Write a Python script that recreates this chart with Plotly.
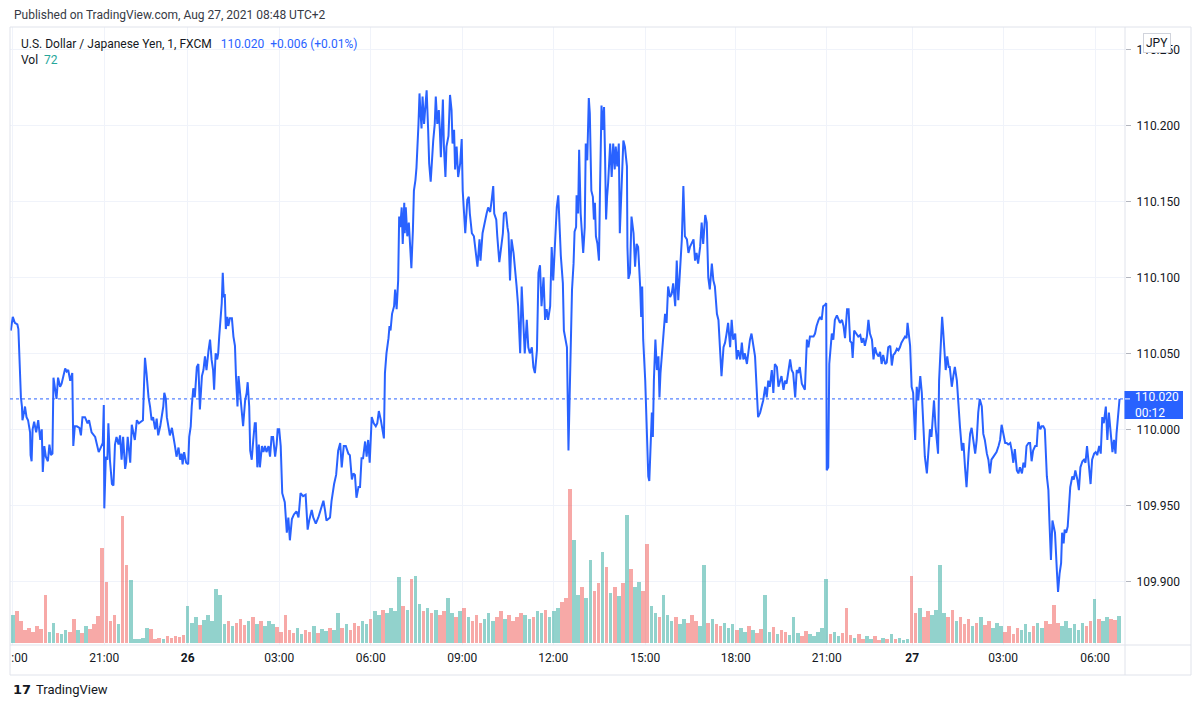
import numpy as np
import plotly.graph_objects as go

# USD/JPY 1-minute closes, x = bar number counted from 18:00 on Aug 25
eve_25 = [(-4, 110.065), (0, 110.074), (4, 110.070), (9, 110.069), (11, 110.066), (13, 110.046), (16, 110.021),
          (18, 110.015), (19, 110.006), (22, 110.011), (24, 110.015), (27, 110.008), (30, 110.006), (34, 109.998),
          (35, 109.983), (37, 109.979), (39, 110.000), (42, 110.005), (46, 109.998), (50, 110.006), (54, 109.993),
          (57, 110.000), (59, 109.972), (62, 109.989), (65, 109.982), (69, 109.979), (72, 109.990), (75, 109.983),
          (78, 109.984), (80, 110.034), (83, 110.028), (86, 110.020), (89, 110.034), (93, 110.028), (96, 110.030),
          (99, 110.035), (103, 110.040), (106, 110.038), (109, 110.039), (113, 110.032), (117, 110.037),
          (119, 109.989), (122, 110.002), (126, 110.002), (131, 110.001), (134, 109.996), (137, 110.008),
          (142, 110.008), (147, 110.004), (150, 110.006), (155, 109.998), (162, 109.995), (165, 109.991),
          (169, 109.985), (173, 109.988), (177, 109.991), (179, 110.016), (180, 109.948), (183, 109.982),
          (186, 109.980), (188, 110.004), (191, 109.980), (195, 109.964), (198, 109.963), (201, 109.990),
          (204, 109.995), (208, 109.990), (211, 109.996), (214, 109.980), (217, 109.995), (221, 109.974),
          (223, 109.978), (226, 109.995), (231, 109.978), (234, 110.003), (237, 109.998), (240, 109.993),
          (244, 110.006), (248, 110.004), (252, 110.005), (256, 110.006), (258, 110.028), (260, 110.047),
          (263, 110.037), (267, 110.021), (270, 110.015), (273, 110.006), (276, 110.008), (280, 110.000),
          (283, 110.007), (286, 109.996), (290, 110.002), (293, 110.008), (296, 110.015), (298, 110.024),
          (301, 110.020), (303, 110.008), (306, 110.002), (309, 109.996), (313, 110.001), (316, 109.993),
          (319, 109.989), (322, 109.982), (326, 109.988), (329, 109.980), (332, 109.984), (334, 109.977),
          (337, 109.985), (341, 109.978), (345, 109.977)]

asia_26 = [(347, 109.995), (350, 110.002), (352, 110.015), (355, 110.027), (358, 110.021), (362, 110.041),
           (365, 110.043), (368, 110.013), (372, 110.035), (375, 110.039), (378, 110.048), (381, 110.039),
           (385, 110.052), (388, 110.059), (391, 110.046), (394, 110.039), (396, 110.026), (399, 110.050),
           (402, 110.046), (404, 110.050), (406, 110.061), (409, 110.074), (411, 110.083), (413, 110.103),
           (415, 110.087), (417, 110.089), (419, 110.066), (422, 110.074), (424, 110.068), (427, 110.073),
           (431, 110.073), (434, 110.061), (437, 110.055), (439, 110.035), (442, 110.015), (444, 110.035),
           (447, 110.024), (450, 110.011), (453, 110.002), (457, 110.019), (460, 110.024), (462, 110.031),
           (465, 110.015), (467, 109.986), (470, 109.980), (473, 109.993), (476, 110.004), (478, 110.004),
           (481, 109.975), (484, 109.990), (486, 109.975), (490, 109.989), (493, 109.985), (496, 109.989),
           (499, 109.985), (503, 109.989), (506, 109.982), (509, 109.995), (512, 109.995), (516, 109.982),
           (519, 109.990), (521, 110.000), (524, 110.000), (527, 109.989), (530, 109.958), (535, 109.952),
           (539, 109.932), (542, 109.942), (545, 109.927), (549, 109.941), (553, 109.944), (558, 109.946),
           (562, 109.942), (566, 109.958), (571, 109.956), (576, 109.957), (580, 109.934), (583, 109.940),
           (588, 109.947), (591, 109.942), (596, 109.938), (601, 109.942), (604, 109.945), (611, 109.953),
           (614, 109.947), (617, 109.940), (624, 109.942), (627, 109.953), (632, 109.964), (636, 109.970),
           (640, 109.986), (644, 109.991), (647, 109.975), (651, 109.989), (655, 109.989), (660, 109.984),
           (663, 109.983), (667, 109.967), (670, 109.971), (673, 109.970), (676, 109.955), (680, 109.962),
           (683, 109.962), (686, 109.981), (689, 109.981), (693, 109.992), (696, 109.982), (699, 109.993),
           (702, 109.978), (706, 110.008), (710, 110.004), (714, 110.002), (717, 110.004), (720, 110.012),
           (724, 110.006), (728, 109.997), (730, 109.994)]

europe_26 = [(732, 110.037), (735, 110.050), (739, 110.060), (741, 110.068), (743, 110.065), (746, 110.076),
             (750, 110.081), (752, 110.092), (755, 110.079), (758, 110.098), (760, 110.140), (762, 110.133),
             (765, 110.146), (767, 110.122), (770, 110.149), (771, 110.129), (773, 110.146), (776, 110.127),
             (779, 110.136), (781, 110.120), (784, 110.106), (787, 110.131), (789, 110.157), (792, 110.164),
             (794, 110.172), (798, 110.201), (800, 110.221), (802, 110.208), (804, 110.198), (806, 110.219),
             (809, 110.201), (811, 110.210), (814, 110.223), (817, 110.197), (819, 110.175), (822, 110.163),
             (825, 110.186), (827, 110.190), (830, 110.201), (832, 110.219), (835, 110.201), (838, 110.210),
             (840, 110.197), (842, 110.179), (846, 110.217), (848, 110.186), (851, 110.166), (853, 110.186),
             (857, 110.193), (860, 110.220), (863, 110.210), (865, 110.188), (868, 110.197), (870, 110.171),
             (873, 110.186), (876, 110.166), (880, 110.175), (883, 110.191), (885, 110.157), (888, 110.138),
             (890, 110.129), (894, 110.151), (897, 110.153), (899, 110.142), (903, 110.129), (907, 110.127),
             (911, 110.114), (914, 110.107), (918, 110.125), (920, 110.111), (924, 110.129), (929, 110.138),
             (932, 110.142), (935, 110.146), (939, 110.143), (942, 110.151), (945, 110.160), (947, 110.142),
             (951, 110.138), (953, 110.127), (957, 110.110), (960, 110.118), (964, 110.129), (966, 110.142),
             (970, 110.143), (973, 110.133), (975, 110.129), (978, 110.098), (981, 110.125), (985, 110.116),
             (988, 110.107), (991, 110.094), (994, 110.081), (998, 110.050), (1001, 110.094), (1004, 110.076),
             (1007, 110.050), (1011, 110.072), (1014, 110.054), (1017, 110.050), (1021, 110.054),
             (1024, 110.041), (1027, 110.037), (1031, 110.052), (1034, 110.103), (1037, 110.108),
             (1040, 110.081), (1044, 110.100), (1047, 110.072), (1050, 110.079), (1053, 110.072),
             (1057, 110.081), (1060, 110.120), (1063, 110.098), (1067, 110.127), (1070, 110.146),
             (1073, 110.154), (1075, 110.138), (1078, 110.114), (1082, 110.096), (1084, 110.065),
             (1090, 110.054), (1092, 110.011), (1093, 109.986)]

ny_26 = [(1096, 110.032), (1098, 110.076), (1100, 110.092), (1103, 110.109), (1105, 110.130), (1108, 110.133),
         (1109, 110.154), (1112, 110.142), (1114, 110.184), (1117, 110.142), (1120, 110.127), (1122, 110.116),
         (1125, 110.133), (1127, 110.188), (1130, 110.177), (1133, 110.218), (1135, 110.208), (1138, 110.157),
         (1141, 110.153), (1143, 110.138), (1145, 110.149), (1147, 110.127), (1150, 110.122), (1153, 110.111),
         (1155, 110.157), (1158, 110.213), (1160, 110.197), (1163, 110.212), (1165, 110.179), (1167, 110.138),
         (1169, 110.153), (1171, 110.162), (1175, 110.188), (1178, 110.166), (1181, 110.188), (1184, 110.171),
         (1186, 110.186), (1189, 110.173), (1192, 110.188), (1194, 110.129), (1198, 110.164), (1201, 110.190),
         (1204, 110.186), (1208, 110.173), (1209, 110.120), (1211, 110.099), (1214, 110.103), (1217, 110.140),
         (1221, 110.129), (1224, 110.107), (1227, 110.122), (1230, 110.120), (1234, 110.094), (1236, 110.074),
         (1238, 110.094), (1240, 110.059), (1244, 110.032), (1247, 109.993), (1250, 109.969), (1252, 109.966),
         (1255, 109.997), (1257, 110.011), (1259, 109.995), (1261, 110.032), (1264, 110.059), (1267, 110.039),
         (1270, 110.048), (1272, 110.021), (1274, 110.037), (1277, 110.054), (1280, 110.063), (1283, 110.076),
         (1286, 110.070), (1289, 110.094), (1293, 110.087), (1296, 110.089), (1299, 110.096), (1303, 110.081),
         (1306, 110.111), (1309, 110.085), (1312, 110.105), (1316, 110.125), (1319, 110.160), (1322, 110.127),
         (1326, 110.125), (1329, 110.116), (1332, 110.120), (1335, 110.122), (1339, 110.125), (1342, 110.111),
         (1345, 110.116), (1348, 110.109), (1352, 110.120), (1355, 110.136), (1358, 110.122), (1362, 110.141),
         (1365, 110.136), (1368, 110.100), (1371, 110.092), (1375, 110.109), (1378, 110.098), (1381, 110.094),
         (1385, 110.076), (1388, 110.072), (1391, 110.048), (1394, 110.035), (1398, 110.054), (1401, 110.057),
         (1404, 110.063), (1407, 110.070), (1411, 110.054), (1414, 110.072), (1417, 110.059), (1421, 110.063),
         (1424, 110.046), (1427, 110.052), (1431, 110.046), (1434, 110.057), (1437, 110.046), (1440, 110.050),
         (1444, 110.043), (1450, 110.059), (1453, 110.063), (1457, 110.054), (1460, 110.048), (1463, 110.028),
         (1466, 110.008), (1470, 110.011), (1473, 110.015), (1476, 110.019), (1480, 110.028), (1483, 110.021),
         (1486, 110.032), (1489, 110.028), (1493, 110.039), (1496, 110.024), (1499, 110.043), (1503, 110.041),
         (1506, 110.028), (1509, 110.032), (1512, 110.035), (1516, 110.026), (1519, 110.032), (1522, 110.030),
         (1525, 110.037), (1529, 110.046), (1532, 110.039), (1535, 110.037), (1539, 110.021), (1542, 110.039),
         (1545, 110.037), (1548, 110.041), (1552, 110.030), (1555, 110.028), (1558, 110.026), (1562, 110.059),
         (1565, 110.054), (1568, 110.061), (1571, 110.061), (1575, 110.061), (1578, 110.063), (1581, 110.068),
         (1585, 110.072), (1588, 110.074), (1591, 110.072), (1594, 110.081), (1598, 110.082), (1600, 110.083)]

night_27 = [(1601, 109.973), (1604, 109.975), (1606, 110.043), (1609, 110.054), (1611, 110.063), (1614, 110.059),
            (1617, 110.072), (1621, 110.075), (1624, 110.073), (1627, 110.070), (1631, 110.072), (1634, 110.068),
            (1637, 110.060), (1641, 110.079), (1644, 110.079), (1647, 110.058), (1650, 110.057), (1652, 110.047),
            (1655, 110.065), (1659, 110.063), (1663, 110.061), (1667, 110.062), (1670, 110.057), (1673, 110.060),
            (1676, 110.055), (1680, 110.061), (1683, 110.072), (1686, 110.063), (1690, 110.059), (1693, 110.046),
            (1696, 110.054), (1699, 110.050), (1703, 110.048), (1706, 110.051), (1709, 110.043), (1712, 110.049),
            (1716, 110.043), (1719, 110.044), (1722, 110.054), (1726, 110.055), (1729, 110.042), (1732, 110.049),
            (1735, 110.050), (1739, 110.053), (1742, 110.052), (1745, 110.054), (1748, 110.057), (1755, 110.061),
            (1758, 110.060), (1760, 110.070), (1763, 110.063), (1765, 110.055), (1768, 110.028), (1771, 110.024),
            (1775, 109.993), (1778, 110.028), (1781, 110.019), (1785, 110.035), (1788, 110.024), (1791, 110.004),
            (1794, 109.982), (1798, 109.971), (1801, 109.989), (1804, 110.000), (1807, 109.995), (1810, 110.015),
            (1812, 110.019), (1815, 110.002), (1818, 109.989), (1820, 109.984), (1822, 110.032), (1825, 110.059),
            (1828, 110.074), (1830, 110.065), (1833, 110.048), (1835, 110.039), (1838, 110.048), (1841, 110.041),
            (1843, 110.041), (1847, 110.028), (1850, 110.035), (1853, 110.041), (1857, 110.032), (1860, 110.015),
            (1863, 110.002), (1867, 109.986), (1870, 109.991), (1873, 109.975), (1876, 109.962), (1880, 109.984),
            (1883, 109.997), (1886, 110.001), (1889, 109.995), (1893, 109.984), (1896, 109.993), (1899, 110.011),
            (1902, 110.020), (1906, 110.015), (1909, 109.997), (1912, 109.993), (1916, 109.984), (1919, 109.980),
            (1922, 109.971), (1925, 109.980), (1929, 109.982), (1932, 109.984), (1935, 109.985), (1939, 109.989),
            (1942, 109.993), (1945, 110.003), (1948, 109.997), (1952, 109.991), (1955, 109.991), (1958, 109.990),
            (1962, 109.991), (1965, 109.986), (1968, 109.978), (1971, 109.987), (1975, 109.973), (1978, 109.971),
            (1981, 109.975), (1985, 109.971), (1988, 109.978), (1991, 109.975), (1994, 109.989), (1998, 109.991),
            (2001, 109.991), (2004, 109.979), (2007, 109.986), (2011, 109.989), (2014, 109.989), (2017, 110.005),
            (2021, 110.000), (2024, 110.002), (2027, 110.002), (2030, 110.000), (2034, 109.969), (2037, 109.960),
            (2039, 109.940), (2042, 109.914), (2045, 109.940), (2047, 109.936), (2050, 109.932), (2054, 109.905),
            (2056, 109.893), (2059, 109.905), (2062, 109.912), (2064, 109.932), (2067, 109.925), (2069, 109.934),
            (2072, 109.932), (2075, 109.936), (2077, 109.945), (2080, 109.962), (2084, 109.969), (2087, 109.967),
            (2090, 109.973), (2094, 109.967), (2097, 109.960), (2100, 109.975), (2104, 109.979), (2107, 109.980),
            (2110, 109.978), (2113, 109.989), (2117, 109.975), (2120, 109.964), (2123, 109.980), (2127, 109.984),
            (2130, 109.985), (2133, 109.983), (2137, 109.989), (2140, 109.984), (2143, 110.008), (2146, 110.004),
            (2150, 110.015), (2153, 109.993), (2156, 110.011), (2160, 109.997), (2163, 109.985), (2166, 109.993),
            (2169, 109.984), (2171, 109.997), (2174, 110.011), (2177, 110.020)]

# tick volume, one value per 8 bars
vol_25 = [75, 85, 60, 35, 40, 30, 45, 38, 130, 30, 55, 28, 25, 35, 30, 64, 35, 28, 45, 38, 50, 72, 256, 163,
          60, 75, 50, 340, 210, 170, 12, 10, 15, 40, 38, 12, 15, 10, 18, 14, 20, 16, 22]
vol_26a = [100, 55, 70, 48, 62, 75, 60, 145, 130, 50, 60, 45, 55, 65, 48, 58, 70, 52, 60, 45, 58, 50, 42,
           30, 75, 35, 28, 40, 25, 35, 30, 45, 28, 38, 32, 40, 35, 80, 40, 50, 35, 55, 45, 60, 50]
vol_26b = [65, 85, 75, 90, 80, 95, 85, 176, 100, 90, 171, 180, 105, 85, 95, 80, 90, 75, 85, 120, 80, 70, 85, 93,
           70, 60, 75, 55, 65, 80, 60, 70, 85, 65, 75, 60, 70, 80, 75, 65, 70, 85, 80, 90, 70, 85, 95,
           110, 120, 414, 275, 130, 150, 120, 222, 140, 160, 245, 203, 135, 150, 125, 160, 342,
           198, 150, 165, 140, 265, 100, 80, 70, 130, 75]
vol_26c = [60, 70, 50, 65, 55, 75, 60, 45, 208, 55, 65, 50, 45, 55, 40, 50, 35,
           40, 30, 45, 35, 28, 38, 128, 30, 42, 25, 35, 30, 22, 70, 28, 20, 32, 25, 18, 30, 40, 171,
           25, 30, 20, 28, 93, 22, 15, 25, 12, 18, 10, 20, 8, 15, 12, 25, 10, 15, 8, 12, 179]
vol_27 = [80, 95, 70, 85, 75, 90, 208, 80, 70, 90, 60, 70, 50, 65, 45, 55, 70, 48, 60, 40, 55, 45,
          30, 45, 25, 40, 35, 50, 30, 45, 55, 40, 60, 50, 101, 55, 45, 60, 40, 50, 35, 55, 45, 60, 117,
          65, 60, 70, 65, 62, 72]

tick_bars = [0, 180, 344, 524, 704, 884, 1063, 1244, 1422, 1601, 1769, 1948, 2129]
tick_text = ['<span style="color:rgba(0,0,0,0)">18</span>:00', '21:00', '<b>26</b>', '03:00', '06:00', '09:00',
             '12:00', '15:00', '18:00', '21:00', '<b>27</b>', '03:00', '06:00']

last_price = 110.020

line_pts = eve_25 + asia_26 + europe_26 + ny_26 + night_27
bar_idx = np.array([p[0] for p in line_pts])
close = np.array([p[1] for p in line_pts])

volume = vol_25 + vol_26a + vol_26b + vol_26c + vol_27
vol_bar = np.arange(len(volume)) * 8


def last_close(b):
    i = np.searchsorted(bar_idx, b, side='right') - 1
    return close[max(i, 0)]


vol_col = ['rgba(38,166,154,0.5)' if last_close(b) >= last_close(b - 8) else 'rgba(239,83,80,0.5)'
           for b in vol_bar]

BLUE = '#2962ff'
BORDER = '#e0e3eb'
GRID = '#f0f3fa'
TXT = '#131722'

fig = go.Figure()
fig.add_trace(go.Bar(x=vol_bar, y=volume, width=7, marker=dict(color=vol_col, line=dict(width=0)),
                     yaxis='y'))
fig.add_trace(go.Scatter(x=bar_idx, y=close, mode='lines', line=dict(color=BLUE, width=2), yaxis='y2'))

fig.update_layout(
    width=1200, height=706,
    margin=dict(l=10, r=75, t=27, b=61),
    paper_bgcolor='white', plot_bgcolor='white',
    showlegend=False, hovermode=False, bargap=0,
    font=dict(family='Roboto, "Noto Sans", sans-serif', size=12, color=TXT),
    xaxis=dict(range=[-5.5, 2187.7], tickvals=tick_bars, ticktext=tick_text, showgrid=True,
               gridcolor=GRID, zeroline=False, showline=False, ticks='', ticklabelstandoff=4,
               ticklabeloverflow='allow', automargin=False, tickfont=dict(size=12, color=TXT)),
    yaxis=dict(range=[-5, 1650], visible=False, showgrid=False, automargin=False),
    yaxis2=dict(overlaying='y', side='right', anchor='x', range=[109.8581, 110.2647], tick0=110, dtick=0.05,
                tickformat='.3f', showgrid=True, gridcolor=GRID, zeroline=False, showline=False,
                ticks='outside', ticklen=5, tickcolor='#b2b5be', ticklabelstandoff=3, automargin=False,
                tickfont=dict(size=12, color=TXT)),
)

# pane / scale borders
xr = (1191 - 10) / 1115
yb = -30 / 618
for x0, y0, x1, y1 in [(0, 1, xr, 1), (0, yb, xr, yb), (0, yb, 0, 1), (xr, yb, xr, 1), (1, yb, 1, 1), (0, 0, xr, 0)]:
    fig.add_shape(type='line', xref='paper', yref='paper', x0=x0, y0=y0, x1=x1, y1=y1,
                  line=dict(color=BORDER, width=1))

# last price dotted line and its label box on the price scale
fig.add_shape(type='line', xref='paper', yref='y2', x0=0, x1=1, y0=last_price, y1=last_price,
              line=dict(color=BLUE, width=1, dash='dot'))
fig.add_shape(type='rect', xref='paper', yref='y2', x0=0.9995, x1=(1183 - 10) / 1115,
              ysizemode='pixel', yanchor=last_price, y0=-20, y1=8,
              fillcolor=BLUE, line=dict(width=0))
fig.add_shape(type='line', xref='paper', yref='y2', x0=1.0, x1=(1130 - 10) / 1115, y0=last_price,
              y1=last_price, line=dict(color='white', width=1))
fig.add_annotation(xref='paper', yref='y2', x=(1133 - 10) / 1115, y=last_price, xanchor='left',
                   yanchor='middle', yshift=-6, text='110.020<br>00:12', align='left', showarrow=False,
                   font=dict(size=12, color='white'))

fig.add_annotation(xref='paper', yref='paper', x=0.0015, y=1.0194, xanchor='left', yanchor='middle',
                   text='Published on TradingView.com, Aug 27, 2021 08:48 UTC+2', showarrow=False,
                   font=dict(size=12, color='#363a45'))
fig.add_annotation(xref='paper', yref='paper', x=0.0083, y=0.9725, xanchor='left', yanchor='middle',
                   text='U.S. Dollar / Japanese Yen, 1, FXCM&nbsp;&nbsp;&nbsp;<span style="color:#2962ff">110.020'
                        '&nbsp;&nbsp;+0.006 (+0.01%)</span>',
                   showarrow=False, font=dict(size=12, color=TXT))
fig.add_annotation(xref='paper', yref='paper', x=0.0083, y=0.9458, xanchor='left', yanchor='middle',
                   text='Vol&nbsp;&nbsp;<span style="color:#26a69a">72</span>', showarrow=False,
                   font=dict(size=12, color=TXT))
fig.add_annotation(xref='paper', yref='paper', x=1.0284, y=0.974, xanchor='center', yanchor='middle',
                   text='JPY', showarrow=False, bgcolor='white', bordercolor='#d1d4dc', borderwidth=1,
                   borderpad=2, font=dict(size=12, color=TXT))
fig.add_annotation(xref='paper', yref='paper', x=0.0005, y=-0.0712, xanchor='left', yanchor='middle',
                   text='<b>17</b>', showarrow=False, font=dict(family='DejaVu Sans', size=13, color=TXT))
fig.add_annotation(xref='paper', yref='paper', x=0.0215, y=-0.0712, xanchor='left', yanchor='middle',
                   text='TradingView', showarrow=False, font=dict(size=13, color=TXT))

fig.write_html("out.html", config={'displayModeBar': False},
               post_script="document.body.style.margin='0';")
